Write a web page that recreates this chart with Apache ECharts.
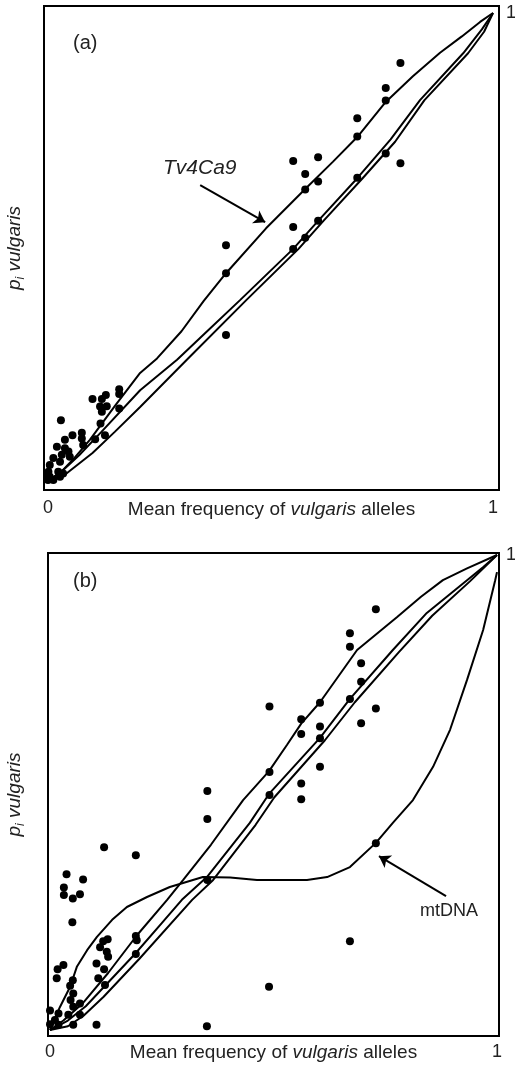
<!DOCTYPE html>
<html>
	<head>
		<meta charset="utf-8">
		<script src="https://cdn.jsdelivr.net/npm/echarts@6/dist/echarts.min.js"></script>
		<title></title>
		<style>
			html, body { margin: 0; padding: 0; background: #fff; }
			#chart { width: 515px; height: 1071px; }
		</style>
	</head>
	<body>
	<div id="chart"></div>

	<script>
		// (a) Tv4Ca9 panel
		let pointsA = [
			[0.792,0.893],[0.759,0.840],[0.759,0.813],[0.695,0.775],[0.695,0.736],[0.759,0.700],[0.792,0.679],[0.695,0.648],
			[0.551,0.684],[0.607,0.692],[0.578,0.656],[0.607,0.640],[0.578,0.623],[0.551,0.543],[0.607,0.556],[0.578,0.520],[0.551,0.496],
			[0.400,0.504],[0.400,0.444],[0.400,0.312],
			[0.160,0.196],[0.160,0.186],[0.130,0.184],[0.121,0.175],[0.100,0.175],[0.132,0.160],[0.117,0.159],[0.121,0.148],[0.160,0.155],
			[0.029,0.130],[0.118,0.123],[0.076,0.103],[0.055,0.098],[0.076,0.091],[0.038,0.088],[0.106,0.089],[0.128,0.098],[0.079,0.077],
			[0.020,0.073],[0.038,0.070],[0.046,0.063],[0.031,0.056],[0.012,0.049],[0.049,0.052],[0.027,0.041],[0.004,0.034],[0.001,0.020],
			[0.023,0.020],[0,0.009],[0.004,0.009],[0.027,0.009],[0.012,0.002],[0,0.002],[0.034,0.016]
		];
		let curveA1 = [[0,0],[0.03,0.02],[0.06,0.05],[0.094,0.088],[0.15,0.16],[0.207,0.231],[0.245,0.262],[0.3,0.32],[0.35,0.385],[0.4,0.444],
			[0.49,0.54],[0.578,0.624],[0.64,0.682],[0.695,0.735],[0.759,0.81],[0.82,0.865],[0.881,0.915],[0.93,0.95],[0.971,0.981],[1,1]];
		let curveA2 = [[0,0],[0.03,0.02],[0.07,0.055],[0.12,0.105],[0.207,0.194],[0.29,0.259],[0.36,0.322],[0.431,0.386],[0.551,0.496],
			[0.607,0.556],[0.695,0.647],[0.77,0.73],[0.836,0.814],[0.933,0.914],[0.975,0.965],[1,1]];
		let curveA3 = [[0,0],[0.04,0.015],[0.1,0.06],[0.15,0.105],[0.207,0.158],[0.312,0.259],[0.445,0.386],[0.563,0.496],[0.619,0.556],
			[0.707,0.647],[0.78,0.725],[0.846,0.814],[0.944,0.914],[0.98,0.96],[1,1]];
		let arrowA = [[0.342,0.632],[0.488,0.553]];

		// (b) mtDNA panel
		let pointsB = [
			[0.729,0.886],[0.671,0.835],[0.671,0.807],[0.696,0.772],[0.696,0.733],[0.671,0.697],[0.729,0.677],[0.696,0.646],
			[0.491,0.681],[0.604,0.689],[0.562,0.654],[0.604,0.639],[0.562,0.623],[0.604,0.614],[0.604,0.554],[0.491,0.543],
			[0.562,0.519],[0.352,0.503],[0.491,0.495],[0.562,0.486],[0.352,0.444],[0.729,0.393],[0.352,0.316],[0.671,0.187],
			[0.490,0.091],[0.351,0.008],
			[0.121,0.385],[0.192,0.368],[0.037,0.328],[0.074,0.317],[0.031,0.300],[0.031,0.284],[0.051,0.277],[0.067,0.286],
			[0.050,0.227],[0.129,0.191],[0.119,0.187],[0.192,0.198],[0.194,0.189],[0.192,0.160],[0.112,0.174],[0.127,0.165],
			[0.130,0.154],[0.104,0.140],[0.121,0.128],[0.030,0.137],[0.017,0.128],[0.015,0.109],[0.051,0.105],[0.045,0.093],
			[0.108,0.109],[0.123,0.095],[0.052,0.077],[0.046,0.063],[0.067,0.056],[0.052,0.049],[0,0.041],[0.019,0.035],
			[0.041,0.032],[0.067,0.032],[0,0.012],[0.019,0.011],[0.052,0.011],[0.104,0.011],[0.011,0.021]
		];
		let curveB1 = [[0,0],[0.03,0.02],[0.074,0.057],[0.13,0.12],[0.195,0.2],[0.262,0.274],[0.298,0.316],[0.36,0.39],[0.432,0.484],
			[0.49,0.545],[0.53,0.6],[0.562,0.645],[0.604,0.69],[0.687,0.8],[0.776,0.869],[0.83,0.912],[0.879,0.947],[0.933,0.972],[1,1]];
		let curveB2 = [[0,0],[0.04,0.02],[0.08,0.05],[0.15,0.12],[0.19,0.16],[0.25,0.225],[0.295,0.274],[0.351,0.322],[0.447,0.436],
			[0.49,0.497],[0.604,0.615],[0.671,0.697],[0.767,0.8],[0.843,0.878],[0.933,0.947],[0.97,0.975],[1,1]];
		let curveB3 = [[0,0],[0.04,0.008],[0.075,0.03],[0.12,0.07],[0.2,0.15],[0.318,0.274],[0.365,0.316],[0.46,0.432],[0.502,0.49],
			[0.615,0.61],[0.682,0.69],[0.78,0.795],[0.855,0.872],[0.94,0.945],[1,1]];
		let curveMt = [[0,0],[0.022,0.048],[0.045,0.091],[0.06,0.133],[0.083,0.168],[0.105,0.196],[0.139,0.232],[0.172,0.259],
			[0.217,0.28],[0.268,0.301],[0.342,0.322],[0.403,0.321],[0.463,0.316],[0.575,0.316],[0.62,0.322],[0.671,0.343],
			[0.729,0.394],[0.767,0.436],[0.812,0.484],[0.857,0.554],[0.895,0.632],[0.933,0.737],[0.969,0.842],[0.996,0.947],[1,0.964]];
		let arrowB = [[0.886,0.282],[0.736,0.366]];

		let xTicks = [0, 1];
		let yTicks = [1];

		const font = "'Liberation Sans', Arial, sans-serif";
		const ink = '#000';

		function xAxisFor(gridIndex, min, max, margin, gap) {
			return {
				gridIndex: gridIndex, type: 'value', min: min, max: max,
				axisLine: { show: false }, axisTick: { show: false }, splitLine: { show: false },
				axisLabel: { customValues: xTicks, margin: margin, fontSize: 18, color: '#222', fontFamily: font },
				name: '{n|Mean frequency of }{i|vulgaris}{n| alleles}',
				nameLocation: 'middle', nameGap: gap, nameMoveOverlap: false,
				nameTextStyle: {
					rich: {
						n: { fontSize: 19, color: '#222', fontFamily: font },
						i: { fontSize: 19, color: '#222', fontFamily: font, fontStyle: 'italic' }
					}
				}
			};
		}
		function yAxesFor(gridIndex, min, max, gap) {
			return [{
				gridIndex: gridIndex, type: 'value', min: min, max: max,
				axisLine: { show: false }, axisTick: { show: false }, splitLine: { show: false },
				axisLabel: { show: false },
				name: '{i|p}{s|i}{i| vulgaris}',
				nameLocation: 'middle', nameGap: gap, nameMoveOverlap: false,
				nameTextStyle: {
					rich: {
						i: { fontSize: 19, color: '#222', fontFamily: font, fontStyle: 'italic', lineHeight: 24 },
						s: { fontSize: 12, color: '#222', fontFamily: font, fontStyle: 'italic', verticalAlign: 'bottom', lineHeight: 24 }
					}
				}
			}, {
				gridIndex: gridIndex, type: 'value', min: min, max: max, position: 'right',
				axisLine: { show: false }, axisTick: { show: false }, splitLine: { show: false },
				axisLabel: { customValues: yTicks, margin: 7, fontSize: 18, color: '#222', fontFamily: font }
			}];
		}
		function curve(data, xi, yi) {
			return {
				type: 'line', data: data, xAxisIndex: xi, yAxisIndex: yi,
				showSymbol: false, smooth: false, silent: true,
				lineStyle: { color: ink, width: 2 }
			};
		}
		function dots(data, xi, yi, arrow) {
			return {
				type: 'scatter', data: data, xAxisIndex: xi, yAxisIndex: yi,
				symbolSize: 8, itemStyle: { color: ink, opacity: 1 }, z: 5,
				markLine: {
					silent: true, symbol: ['none', 'arrow'], symbolSize: 11,
					lineStyle: { color: ink, width: 2, type: 'solid' },
					label: { show: false },
					data: [[{ coord: arrow[0] }, { coord: arrow[1] }]]
				}
			};
		}

		const chart = echarts.init(document.getElementById('chart'), null, { renderer: 'canvas' });
		chart.setOption({
			animation: false,
			backgroundColor: '#fff',
			grid: [
				{ left: 44, top: 6, width: 455, height: 484, outerBoundsMode: 'none', containLabel: false,
					show: true, borderColor: ink, borderWidth: 2, backgroundColor: 'transparent' },
				{ left: 48, top: 553, width: 451, height: 483, outerBoundsMode: 'none', containLabel: false,
					show: true, borderColor: ink, borderWidth: 2, backgroundColor: 'transparent' }
			],
			xAxis: [
				xAxisFor(0, -0.009, 1.0135, 9, 10),
				xAxisFor(1, -0.0045, 1.0045, 7, 7)
			],
			yAxis: yAxesFor(0, -0.0192, 1.015, 17).concat(yAxesFor(1, -0.0126, 1.0042, 21)),
			graphic: [
				{ type: 'text', left: 73, top: 33, style: { text: '(a)', fontSize: 20, fill: '#222', fontFamily: font } },
				{ type: 'text', left: 73, top: 571, style: { text: '(b)', fontSize: 20, fill: '#222', fontFamily: font } },
				{ type: 'text', left: 163, top: 158, style: { text: 'Tv4Ca9', fontSize: 21, fill: '#222', fontFamily: font, fontStyle: 'italic' } },
				{ type: 'text', left: 420, top: 902, style: { text: 'mtDNA', fontSize: 18, fill: '#222', fontFamily: font } }
			],
			series: [
				curve(curveA1, 0, 0), curve(curveA2, 0, 0), curve(curveA3, 0, 0),
				dots(pointsA, 0, 0, arrowA),
				curve(curveB1, 1, 2), curve(curveB2, 1, 2), curve(curveB3, 1, 2), curve(curveMt, 1, 2),
				dots(pointsB, 1, 2, arrowB)
			]
		});
	</script>
	</body>
</html>
